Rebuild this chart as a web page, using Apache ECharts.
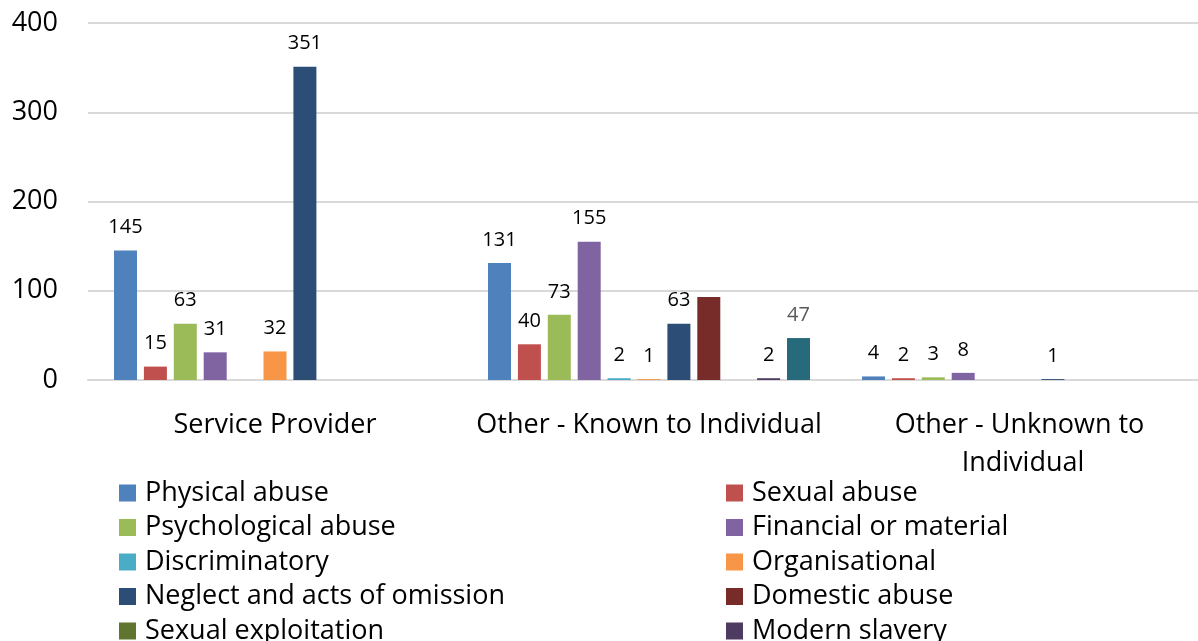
<!DOCTYPE html>
<html>
<head>
<meta charset="utf-8">
<script src="https://cdn.jsdelivr.net/npm/echarts@6/dist/echarts.min.js"></script>
<style>
  html, body { margin: 0; padding: 0; background: #fff; }
  #chart { width: 1198px; height: 641px; }
</style>
</head>
<body>
<div id="chart"></div>
<script>
const categories = ['Service Provider', 'Other - Known to Individual', 'Other - Unknown to Individual']

const seriesNames = [
  'Physical abuse', 'Sexual abuse', 'Psychological abuse', 'Financial or material',
  'Discriminatory', 'Organisational', 'Neglect and acts of omission', 'Domestic abuse',
  'Sexual exploitation', 'Modern slavery', 'Self-neglect',
]

const physical = [145, 131, 4]
const sexual = [15, 40, 2]
const psychological = [63, 73, 3]
const financial = [31, 155, 8]
const discriminatory = [0, 2, 0]
const organisational = [32, 1, 0]
const neglect = [351, 63, 1]
const domestic = [0, 93, 0]
const exploitation = [0, 0, 0]
const slavery = [0, 2, 0]
const selfNeglect = [0, 47, 0]

const yTicks = [0, 100, 200, 300, 400]

const values = [physical, sexual, psychological, financial, discriminatory, organisational,
  neglect, domestic, exploitation, slavery, selfNeglect]

const colors = ['#4F81BD', '#C0504D', '#9BBB59', '#8064A2', '#4BACC6', '#F79646',
  '#2C4D75', '#772C2A', '#5F7530', '#4D3B62', '#276A7C']

const font = 'Open Sans'

const chart = echarts.init(document.getElementById('chart'))

const series = seriesNames.map((name, i) => ({
  name,
  type: 'bar',
  data: values[i],
  barWidth: 23,
  barGap: '30%',
  itemStyle: { color: colors[i] },
  label: {
    show: i !== 7,
    position: 'top',
    distance: 13,
    fontFamily: font,
    fontSize: 20,
    color: i === 10 ? '#595959' : '#000',
    formatter: p => (p.value ? p.value : ''),
  },
}))

// two fixed columns, like the spreadsheet legend (last row runs off the bottom)
const legendBase = {
  orient: 'vertical',
  icon: 'rect',
  top: 474,
  height: 300,
  itemWidth: 17,
  itemHeight: 17,
  itemGap: 6.5,
  textStyle: { fontFamily: font, fontSize: 27, color: '#000', lineHeight: 28, padding: [0, 0, 0, 4] },
}

chart.setOption({
  animation: false,
  color: colors,
  grid: { left: 88, width: 1122, top: 23, bottom: 261, outerBoundsMode: 'none', containLabel: false },
  legend: [
    { ...legendBase, left: 114, data: seriesNames.filter((_, i) => i % 2 === 0) },
    { ...legendBase, left: 721, data: seriesNames.filter((_, i) => i % 2 === 1) },
  ],
  xAxis: {
    type: 'category',
    data: categories,
    axisLine: { lineStyle: { color: '#D9D9D9', width: 2 } },
    axisTick: { show: false },
    axisLabel: {
      fontFamily: font,
      fontSize: 27,
      color: '#000',
      margin: 26,
      lineHeight: 38,
      width: 365,
      overflow: 'break',
      interval: 0,
    },
  },
  yAxis: {
    type: 'value',
    min: yTicks[0],
    max: yTicks[yTicks.length - 1],
    interval: 100,
    axisLine: { show: false },
    axisTick: { show: false },
    splitLine: { lineStyle: { color: '#D9D9D9', width: 2 } },
    axisLabel: { fontFamily: font, fontSize: 27, color: '#000', margin: 30 },
  },
  series,
})
</script>
</body>
</html>
